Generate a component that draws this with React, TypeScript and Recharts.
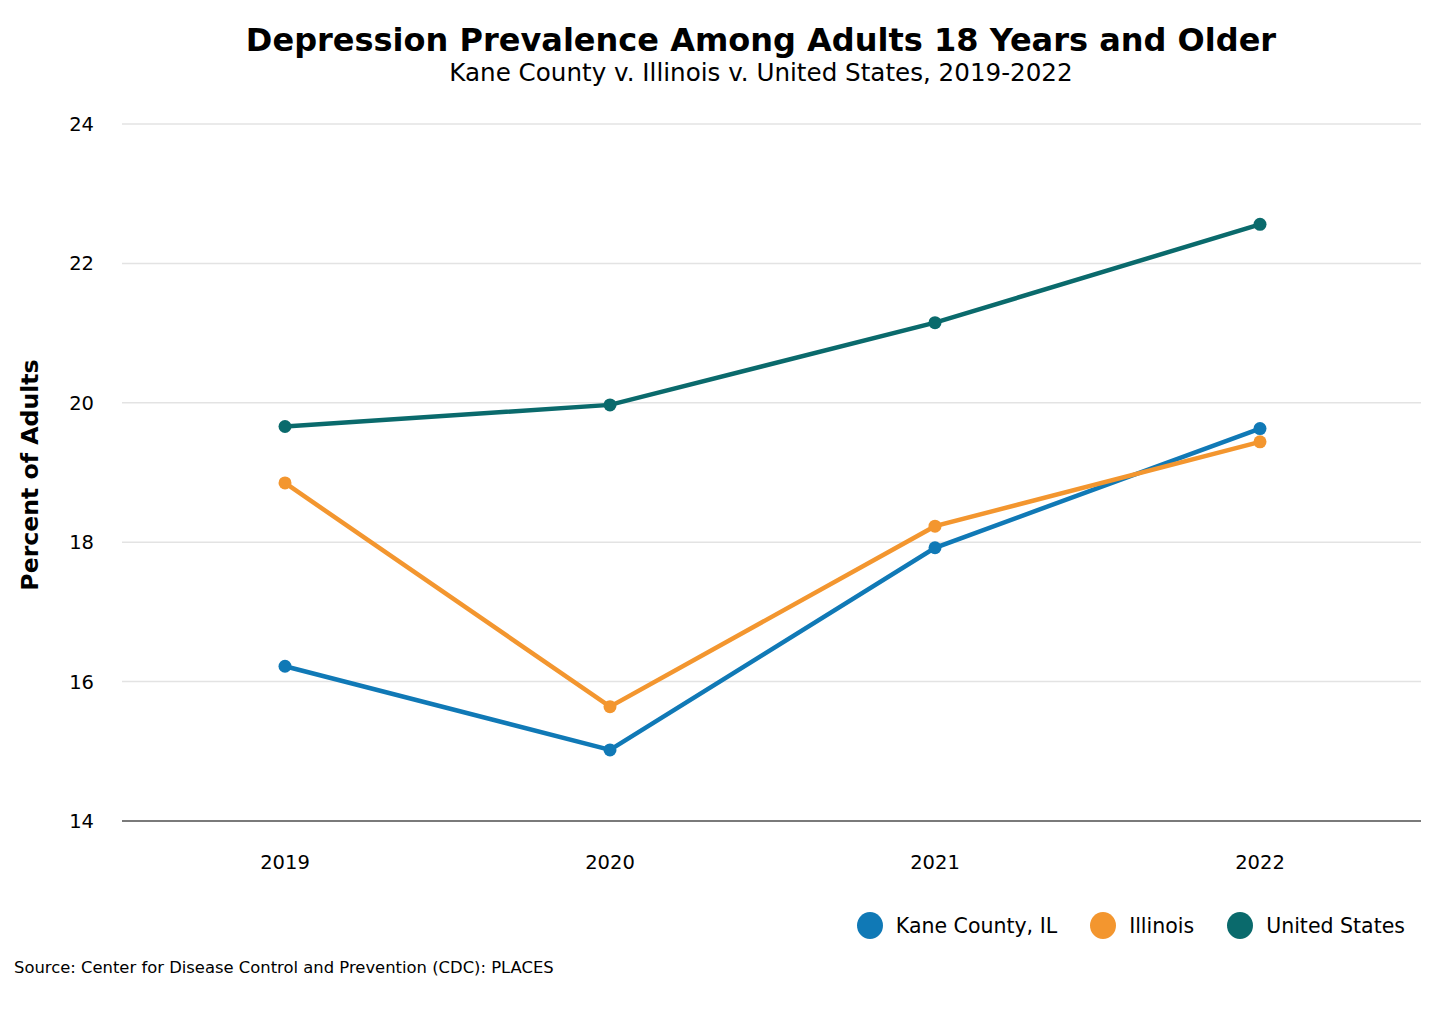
import React from 'react';
import { LineChart, Line, XAxis, YAxis, CartesianGrid } from 'recharts';

const years = ['2019', '2020', '2021', '2022'];
const kaneCounty = [16.22, 15.02, 17.92, 19.63];
const illinois = [18.85, 15.64, 18.23, 19.44];
const unitedStates = [19.66, 19.97, 21.15, 22.56];
const yTicks = [14, 16, 18, 20, 22, 24];

const seriesInfo = [
  { key: 'kane', name: 'Kane County, IL', color: '#1079B6' },
  { key: 'il', name: 'Illinois', color: '#F3962F' },
  { key: 'us', name: 'United States', color: '#0A6A6C' },
];

const data = years.map((y, i) => ({
  year: y,
  kane: kaneCounty[i],
  il: illinois[i],
  us: unitedStates[i],
}));

const FONT = '"DejaVu Sans", Verdana, sans-serif';

export default function App() {
  return (
    <div style={{ position: 'absolute', left: 0, top: 0, width: 1440, height: 1027, background: '#fff', fontFamily: FONT, color: '#000' }}>
      <div style={{ position: 'absolute', left: 761, top: 18, transform: 'translateX(-50%)', whiteSpace: 'nowrap', fontSize: 32, fontWeight: 'bold', lineHeight: '44px' }}>
        Depression Prevalence Among Adults 18 Years and Older
      </div>
      <div style={{ position: 'absolute', left: 761, top: 57, transform: 'translateX(-50%)', whiteSpace: 'nowrap', fontSize: 24.6, lineHeight: '32px' }}>
        Kane County v. Illinois v. United States, 2019-2022
      </div>
      <div style={{ position: 'absolute', left: 30, top: 475, transform: 'translate(-50%, -50%) rotate(-90deg)', whiteSpace: 'nowrap', fontSize: 23.6, fontWeight: 'bold' }}>
        Percent of Adults
      </div>
      <div style={{ position: 'absolute', left: 0, top: 0 }}>
        <LineChart width={1440} height={1027} data={data} margin={{ top: 124, right: 19, left: 0, bottom: 146 }}>
          <CartesianGrid vertical={false} stroke="#e3e3e3" strokeWidth={1.5} />
          <XAxis
            dataKey="year"
            height={60}
            padding={{ left: 163, right: 161 }}
            tickLine={false}
            tickSize={0}
            tickMargin={34}
            axisLine={{ stroke: '#555', strokeWidth: 1.5 }}
            tick={{ fill: '#000', fontSize: 19.5, fontFamily: FONT }}
          />
          <YAxis
            width={122}
            domain={[14, 24]}
            ticks={yTicks}
            type="number"
            axisLine={false}
            tickLine={false}
            tickSize={0}
            tickMargin={28}
            tick={{ fill: '#000', fontSize: 19.5, fontFamily: FONT }}
          />
          {seriesInfo.map((s) => (
            <Line
              key={s.key}
              dataKey={s.key}
              name={s.name}
              type="linear"
              stroke={s.color}
              strokeWidth={4.5}
              dot={{ r: 6.5, fill: s.color, stroke: s.color, strokeWidth: 0 }}
              activeDot={false}
              isAnimationActive={false}
            />
          ))}
        </LineChart>
      </div>
      <div style={{ position: 'absolute', right: 35, top: 912, display: 'flex', alignItems: 'center', fontSize: 20.5 }}>
        {seriesInfo.map((s, i) => (
          <div key={s.key} style={{ display: 'flex', alignItems: 'center', marginLeft: i === 0 ? 0 : 33 }}>
            <span style={{ display: 'inline-block', width: 26, height: 27, borderRadius: '50%', background: s.color, marginRight: 13 }} />
            <span>{s.name}</span>
          </div>
        ))}
      </div>
      <div style={{ position: 'absolute', left: 14, top: 958, fontSize: 16.4, whiteSpace: 'nowrap' }}>
        Source: Center for Disease Control and Prevention (CDC): PLACES
      </div>
    </div>
  );
}
